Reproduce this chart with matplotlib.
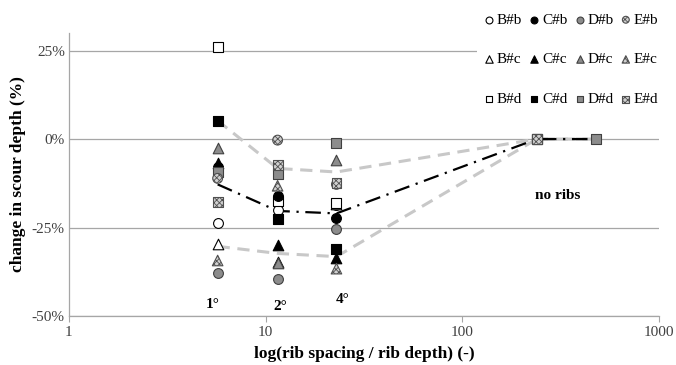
import matplotlib
matplotlib.use("Agg")
import matplotlib.pyplot as plt
from matplotlib.ticker import FixedLocator, FixedFormatter, NullLocator

plt.rcParams['font.family'] = ['Liberation Serif', 'DejaVu Serif']
plt.rcParams['hatch.linewidth'] = 0.6

# x positions (rib spacing / rib depth)
x_ribs = [5.7, 11.5, 22.9]
x_noribs_a = 239
x_noribs_b = 478

# series values (% change in scour depth) at the three rib spacings
series = {
    'B#b': [-23.8, -20.0, -18.7],
    'B#c': [-29.6, -34.6, -18.3],
    'B#d': [26.0, -17.6, -18.0],
    'C#b': [-8.0, -16.0, -22.4],
    'C#c': [-6.9, -29.9, -33.6],
    'C#d': [5.2, -22.6, -31.1],
    'D#b': [-37.9, -39.5, -25.4],
    'D#c': [-2.6, -34.9, -5.9],
    'D#d': [-9.2, -10.0, -1.0],
    'E#b': [-11.1, -0.3, -12.8],
    'E#c': [-34.3, -13.2, -36.6],
    'E#d': [-17.7, -7.3, -12.5],
}
# "no ribs" reference points
noribs_x = {'B#d': x_noribs_a, 'C#d': x_noribs_a, 'D#d': x_noribs_b, 'E#d': x_noribs_a}
noribs_y = {'B#d': 0.0, 'C#d': 0.0, 'D#d': 0.0, 'E#d': 0.0}

# summary lines
line_x = [5.7, 11.5, 22.9, 239, 478]
mean_line = [-12.8, -20.3, -21.0, 0.0, 0.0]
upper_line = [5.2, -8.3, -9.3, 0.0, 0.0]
lower_line = [-30.3, -32.3, -33.2, 0.0, 0.0]

yticks = [-50, -25, 0, 25]
ytick_labels = ['-50%', '-25%', '0%', '25%']

marker_of = {'b': 'o', 'c': '^', 'd': 's'}
style_of = {
    'B': dict(facecolor='white', edgecolor='black', hatch=None),
    'C': dict(facecolor='black', edgecolor='black', hatch=None),
    'D': dict(facecolor='#8c8c8c', edgecolor='#404040', hatch=None),
    'E': dict(facecolor='#d0d0d0', edgecolor='#505050', hatch='xxxxxx'),
}

fig = plt.figure(figsize=(6.76, 3.65), dpi=100)
ax = fig.add_axes([0.102, 0.134, 0.873, 0.776])

ax.set_xscale('log')
ax.set_xlim(1, 1000)
ax.set_ylim(-50, 30)
ax.set_yticks(yticks)
ax.set_yticklabels(ytick_labels)
ax.yaxis.grid(True, color='#a6a6a6', linewidth=0.9)
ax.set_axisbelow(True)
for s in ['top', 'right']:
    ax.spines[s].set_visible(False)
for s in ['left', 'bottom']:
    ax.spines[s].set_color('#a6a6a6')
    ax.spines[s].set_linewidth(0.9)
ax.tick_params(axis='y', length=0, labelsize=11, labelcolor='#404040', pad=3)
ax.tick_params(axis='x', which='major', length=4, color='#a6a6a6', labelsize=11, labelcolor='#404040', pad=3)
ax.tick_params(axis='x', which='minor', length=0)
ax.xaxis.set_major_locator(FixedLocator([1, 10, 100, 1000]))
ax.xaxis.set_major_formatter(FixedFormatter(['1', '10', '100', '1000']))
ax.xaxis.set_minor_locator(NullLocator())

# lines
ax.plot(line_x, upper_line, color='#c8c8c8', linewidth=2.2, dashes=(4, 2.5), zorder=2)
ax.plot(line_x, lower_line, color='#c8c8c8', linewidth=2.2, dashes=(4, 2.5), zorder=2)
ax.plot(line_x, mean_line, color='black', linewidth=1.6, dashes=(7, 3, 1, 3), zorder=2)

handles = []
for name, vals in series.items():
    grp, kind = name.split('#')
    st = style_of[grp]
    xs = list(x_ribs)
    ys = list(vals)
    if name in noribs_x:
        xs.append(noribs_x[name])
        ys.append(noribs_y[name])
    size = 58 if kind == 'c' else 50
    h = ax.scatter(xs, ys, marker=marker_of[kind], s=size, facecolor=st['facecolor'],
                   edgecolor=st['edgecolor'], linewidths=0.8, hatch=st['hatch'], zorder=3,
                   label=name)
    handles.append(h)

leg = ax.legend(handles=handles, ncol=4, loc='upper right', bbox_to_anchor=(1.019, 1.113),
                frameon=True, facecolor='white', edgecolor='none', framealpha=1.0,
                fontsize=11, handletextpad=0.0, columnspacing=0.3, labelspacing=1.7,
                borderpad=0.3, handlelength=1.0, scatterpoints=1, markerscale=0.7)
leg.set_zorder(5)

# annotations
for txt, xx, yy in [('1°', 5.4, -46.6), ('2°', 11.8, -47.2), ('4°', 24.6, -45.2)]:
    ax.text(xx, yy, txt, ha='center', va='center', fontsize=11, fontweight='bold')
ax.text(306, -15.8, 'no ribs', ha='center', va='center', fontsize=11, fontweight='bold')

ax.set_xlabel('log(rib spacing / rib depth) (-)', fontsize=12.5, fontweight='bold', labelpad=5)
ax.set_ylabel('change in scour depth (%)', fontsize=12.5, fontweight='bold', labelpad=4)

fig.savefig('out.png', dpi=100)
